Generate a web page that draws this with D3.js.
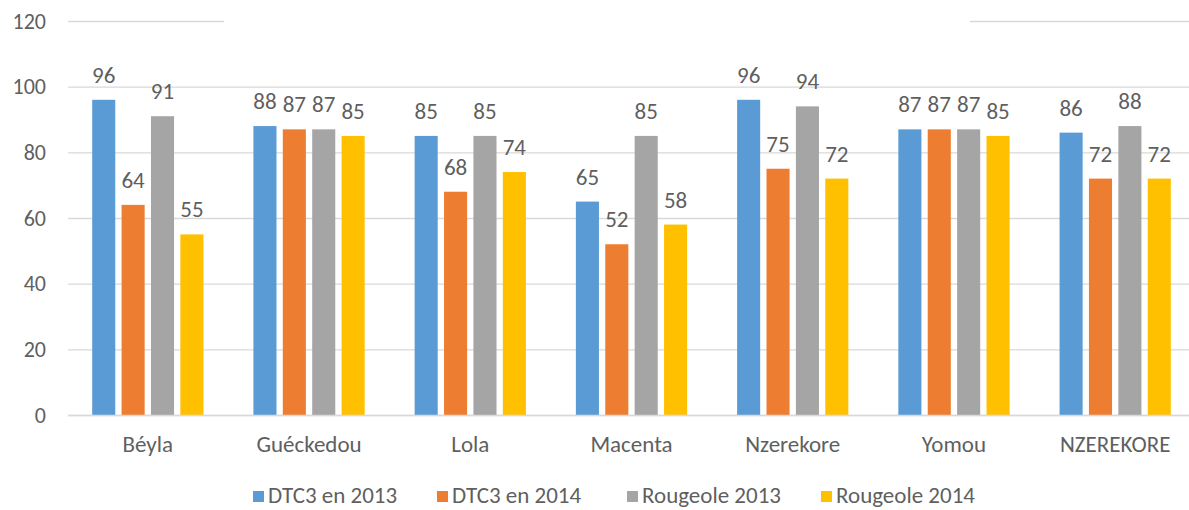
<!DOCTYPE html>
<html><head><meta charset="utf-8">
<script src="https://cdn.jsdelivr.net/npm/d3@7"></script>
<style>body{margin:0;background:#fff}svg{display:block}</style>
</head><body>
<svg id="c" width="1189" height="510"></svg>
<script>
const categories = ["Béyla","Guéckedou","Lola","Macenta","Nzerekore","Yomou","NZEREKORE"];
const seriesNames = ["DTC3 en 2013","DTC3 en 2014","Rougeole 2013","Rougeole 2014"];
const dtc2013 = [96,88,85,65,96,87,86];
const dtc2014 = [64,87,68,52,75,87,72];
const rou2013 = [91,87,85,85,94,87,88];
const rou2014 = [55,85,74,58,72,85,72];
const yTicks = [0,20,40,60,80,100,120];
const colors = ["#5B9BD5","#ED7D31","#A5A5A5","#FFC000"];
const seriesValues = [dtc2013,dtc2014,rou2013,rou2014];

(function(){
const svg = d3.select("#c");
const font = "Calibri, Carlito, 'Open Sans', sans-serif";
const txt = "#5f5f5f";
const mLeft = 68, mRight = 1195, mTop = 21, mBottom = 415;
const y = d3.scaleLinear().domain([0,120]).range([mBottom, mTop]);
const x0 = d3.scaleBand().domain(categories).range([mLeft,mRight]).paddingInner(0.31).paddingOuter(0.15);
const x1 = d3.scaleBand().domain(d3.range(4)).range([0,x0.bandwidth()]).paddingInner(0.215);

// gridlines
const yAxis = d3.axisLeft(y).tickValues(yTicks).tickSize(-(mRight-mLeft)).tickPadding(22);
const ga = svg.append("g").attr("transform",`translate(${mLeft},0)`).call(yAxis);
ga.select(".domain").remove();
ga.selectAll(".tick line").attr("stroke","#D9D9D9").attr("stroke-width",1.3);
ga.selectAll(".tick text").attr("fill",txt).style("font-family",font).style("font-size","22px");

// white mask over middle of top gridline (title area)
svg.append("rect").attr("x",224).attr("y",10).attr("width",746).attr("height",20).attr("fill","#fff");

// bars
const g = svg.append("g");
categories.forEach((c,i)=>{
  seriesValues.forEach((vals,s)=>{
    const v = vals[i];
    const bx = x0(c)+x1(s);
    g.append("rect").attr("x",bx).attr("y",y(v)).attr("width",x1.bandwidth()).attr("height",y(0)-y(v)).attr("fill",colors[s]);
    g.append("text").attr("x",bx+x1.bandwidth()/2).attr("y",y(v)-17).attr("text-anchor","middle")
      .attr("fill",txt).style("font-family",font).style("font-size","23px").text(v);
  });
});

// x axis
const xAxis = d3.axisBottom(x0).tickSize(0).tickPadding(21);
const gx = svg.append("g").attr("transform",`translate(0,${mBottom})`).call(xAxis);
gx.select(".domain").attr("stroke","#D9D9D9").attr("stroke-width",1.3);
gx.selectAll(".tick text").attr("fill",txt).style("font-family",font).style("font-size","23px");

// legend
const legX = [253,437,627,821];
const lg = svg.append("g");
seriesNames.forEach((n,s)=>{
  lg.append("rect").attr("x",legX[s]).attr("y",491).attr("width",11).attr("height",11).attr("fill",colors[s]);
  lg.append("text").attr("x",legX[s]+15).attr("y",503).attr("fill",txt).style("font-family",font).style("font-size","23px").text(n);
});
})();
</script>
</body></html>
